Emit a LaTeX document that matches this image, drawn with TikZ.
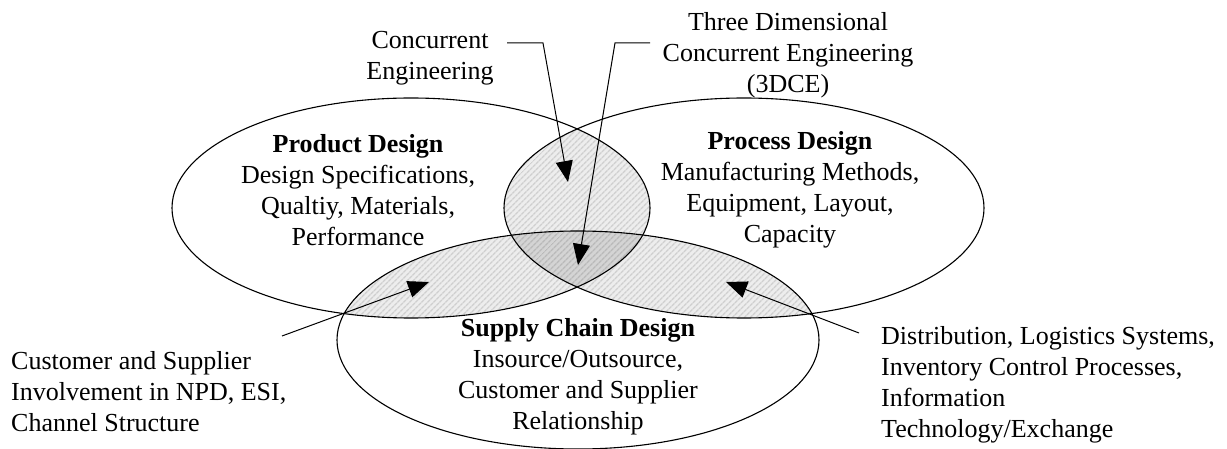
\documentclass[tikz,border=0pt]{standalone}
\usepackage{fontspec}
\setmainfont{Liberation Serif}
\usetikzlibrary{arrows.meta,patterns.meta}
\begin{document}
\begin{tikzpicture}[x=1pt,y=-1pt,
  font=\fontsize{26}{31}\selectfont,
  txt/.style={inner sep=0pt, align=center},
  ring/.style={draw=black, line width=1.1pt},
  lens/.style={fill=gray!14, postaction={pattern={Lines[angle=45,distance=4pt,line width=1.6pt]}, pattern color=gray!38}},
  core/.style={fill=gray!34, postaction={pattern={Lines[angle=45,distance=4pt,line width=1.6pt]}, pattern color=gray!55}},
  pointer/.style={draw=black, line width=1pt, -{Triangle[length=21pt,width=17pt]}}]
\useasboundingbox (0,0) rectangle (1227,449);
\def\ellP{(411,208) ellipse [x radius=239pt, y radius=110pt]}
\def\ellR{(744,208) ellipse [x radius=240pt, y radius=110pt]}
\def\ellS{(578,340) ellipse [x radius=241pt, y radius=109pt]}
% pairwise overlaps
\begin{scope}\clip \ellP; \path[lens] \ellR; \end{scope}
\begin{scope}\clip \ellP; \path[lens] \ellS; \end{scope}
\begin{scope}\clip \ellR; \path[lens] \ellS; \end{scope}
% triple overlap
\begin{scope}\clip \ellP; \clip \ellR; \path[core] \ellS; \end{scope}
% outlines
\draw[ring] \ellP;
\draw[ring] \ellR;
\draw[ring] \ellS;
% texts
\node[txt] (ce) at (430,58) {Concurrent\\Engineering};
\node[txt] (tdce) at (788,55) {Three Dimensional\\Concurrent Engineering\\(3DCE)};
\node[txt] (pd) at (358,190) {\textbf{Product Design}\\Design Specifications,\\Qualtiy, Materials,\\Performance};
\node[txt] (prd) at (790,190) {\textbf{Process Design}\\Manufacturing Methods,\\Equipment, Layout,\\Capacity};
\node[txt] (scd) at (578,377) {\textbf{Supply Chain Design}\\Insource/Outsource,\\Customer and Supplier\\Relationship};
\node[txt, align=left, anchor=west] (csi) at (11,392) {Customer and Supplier\\Involvement in NPD, ESI,\\Channel Structure};
\node[txt, align=left, anchor=west] (dls) at (881,385) {Distribution, Logistics Systems,\\Inventory Control Processes,\\Information\\Technology/Exchange};
% connector points
\coordinate (ceA) at (507,43);
\coordinate (ceB) at (543,43);
\coordinate (ceT) at (568,182);
\coordinate (tdA) at (650,43);
\coordinate (tdB) at (615,43);
\coordinate (tdT) at (578,265);
\coordinate (lA) at (282,336);
\coordinate (lT) at (429,282);
\coordinate (rA) at (859,333);
\coordinate (rT) at (726,282);
\draw[pointer] (ceA) -- (ceB) -- (ceT);
\draw[pointer] (tdA) -- (tdB) -- (tdT);
\draw[pointer] (lA) -- (lT);
\draw[pointer] (rA) -- (rT);
\end{tikzpicture}
\end{document}
